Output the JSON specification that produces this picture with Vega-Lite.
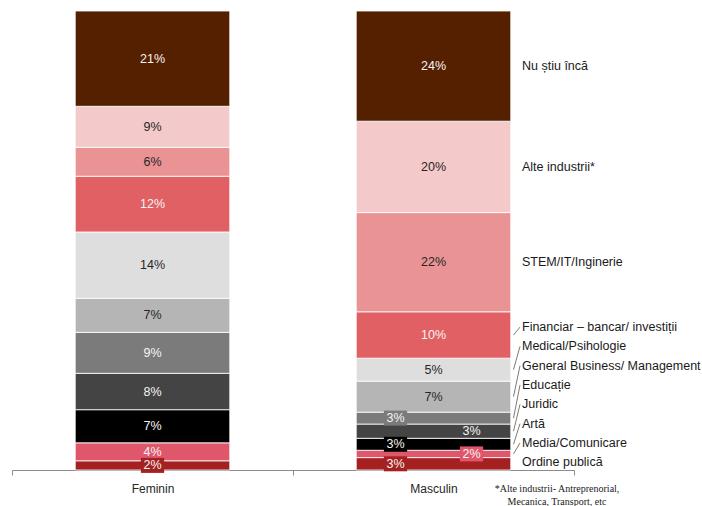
{
  "$schema": "https://vega.github.io/schema/vega-lite/v6.json",
  "width": 562,
  "height": 459,
  "autosize": {"type": "none"},
  "padding": {"left": 12, "top": 11, "right": 128, "bottom": 36},
  "config": {"view": {"stroke": null}, "font": "Liberation Sans"},
  "title": {
    "text": ["*Alte industrii- Antreprenorial,", "Mecanica, Transport, etc"],
    "orient": "bottom",
    "anchor": "end",
    "frame": "group",
    "align": "center",
    "dx": -17,
    "dy": -14,
    "font": "Liberation Serif",
    "fontSize": 10,
    "fontWeight": "normal",
    "color": "#1a1a1a",
    "lineHeight": 12.5
  },
  "data": {
    "values": [
      {"gender": "Feminin", "cat": "Ordine publică", "order": 1, "value": 0.020},
      {"gender": "Feminin", "cat": "Media/Comunicare", "order": 2, "value": 0.039},
      {"gender": "Feminin", "cat": "Artă", "order": 3, "value": 0.072},
      {"gender": "Feminin", "cat": "Juridic", "order": 4, "value": 0.079},
      {"gender": "Feminin", "cat": "Educație", "order": 5, "value": 0.089},
      {"gender": "Feminin", "cat": "General Business/ Management", "order": 6, "value": 0.074},
      {"gender": "Feminin", "cat": "Medical/Psihologie", "order": 7, "value": 0.144},
      {"gender": "Feminin", "cat": "Financiar – bancar/ investiții", "order": 8, "value": 0.121},
      {"gender": "Feminin", "cat": "STEM/IT/Inginerie", "order": 9, "value": 0.063},
      {"gender": "Feminin", "cat": "Alte industrii*", "order": 10, "value": 0.089},
      {"gender": "Feminin", "cat": "Nu știu încă", "order": 11, "value": 0.207},
      {"gender": "Masculin", "cat": "Ordine publică", "order": 1, "value": 0.027},
      {"gender": "Masculin", "cat": "Media/Comunicare", "order": 2, "value": 0.016},
      {"gender": "Masculin", "cat": "Artă", "order": 3, "value": 0.026},
      {"gender": "Masculin", "cat": "Juridic", "order": 4, "value": 0.031},
      {"gender": "Masculin", "cat": "Educație", "order": 5, "value": 0.026},
      {"gender": "Masculin", "cat": "General Business/ Management", "order": 6, "value": 0.0675},
      {"gender": "Masculin", "cat": "Medical/Psihologie", "order": 7, "value": 0.050},
      {"gender": "Masculin", "cat": "Financiar – bancar/ investiții", "order": 8, "value": 0.101},
      {"gender": "Masculin", "cat": "STEM/IT/Inginerie", "order": 9, "value": 0.216},
      {"gender": "Masculin", "cat": "Alte industrii*", "order": 10, "value": 0.199},
      {"gender": "Masculin", "cat": "Nu știu încă", "order": 11, "value": 0.240}
    ]
  },
  "transform": [
    {"stack": "value", "groupby": ["gender"], "sort": [{"field": "order", "order": "ascending"}], "as": ["y0", "y1"], "offset": "normalize"},
    {"calculate": "(datum.y0 + datum.y1) / 2", "as": "mid"}
  ],
  "encoding": {
    "x": {
      "field": "gender",
      "type": "nominal",
      "sort": ["Feminin", "Masculin"],
      "scale": {"paddingInner": 0, "paddingOuter": 0},
      "axis": {
        "title": null,
        "labelAngle": 0,
        "labelFontSize": 12,
        "labelColor": "#262626",
        "labelFont": "Liberation Sans",
        "labelPadding": 8,
        "domainColor": "#8c8c8c",
        "tickColor": "#8c8c8c",
        "tickSize": 5,
        "tickBand": "extent"
      }
    }
  },
  "layer": [
    {
      "mark": {"type": "bar", "width": {"band": 0.55}, "stroke": "white", "strokeWidth": 1, "strokeOpacity": 0.8},
      "encoding": {
        "y": {"field": "y0", "type": "quantitative", "scale": {"domain": [0, 1], "nice": false}, "axis": null},
        "y2": {"field": "y1"},
        "color": {
          "field": "cat",
          "type": "nominal",
          "legend": null,
          "scale": {
            "domain": ["Ordine publică", "Media/Comunicare", "Artă", "Juridic", "Educație", "General Business/ Management", "Medical/Psihologie", "Financiar – bancar/ investiții", "STEM/IT/Inginerie", "Alte industrii*", "Nu știu încă"],
            "range": ["#a52121", "#e0566b", "#000000", "#444444", "#7b7b7b", "#b5b5b5", "#dedede", "#e06063", "#e99395", "#f4c9ca", "#552000"]
          }
        }
      }
    },
    {
      "transform": [{"filter": "datum.gender === 'Masculin' && indexof(['Educație', 'Artă', 'Ordine publică'], datum.cat) >= 0"}],
      "mark": {"type": "point", "shape": "M-1.55,-1H1.55V1H-1.55Z", "size": 225, "filled": true, "opacity": 1, "xOffset": -38},
      "encoding": {
        "y": {"field": "mid", "type": "quantitative", "scale": {"domain": [0, 1], "nice": false}, "axis": null},
        "color": {"field": "cat", "type": "nominal", "legend": null}
      }
    },
    {
      "transform": [{"filter": "datum.gender === 'Masculin' && datum.cat === 'Media/Comunicare'"}],
      "mark": {"type": "point", "shape": "M-1.55,-1H1.55V1H-1.55Z", "size": 225, "filled": true, "opacity": 1, "xOffset": 38},
      "encoding": {
        "y": {"field": "mid", "type": "quantitative", "scale": {"domain": [0, 1], "nice": false}, "axis": null},
        "color": {"field": "cat", "type": "nominal", "legend": null}
      }
    },
    {
      "transform": [{"filter": "datum.gender === 'Feminin' && datum.value <= 0.03"}],
      "mark": {"type": "point", "shape": "M-1.55,-1H1.55V1H-1.55Z", "size": 225, "filled": true, "opacity": 1},
      "encoding": {
        "y": {"field": "mid", "type": "quantitative", "scale": {"domain": [0, 1], "nice": false}, "axis": null},
        "color": {"field": "cat", "type": "nominal", "legend": null}
      }
    },
    {
      "transform": [{"filter": "!(datum.gender === 'Masculin' && indexof(['Educație', 'Artă', 'Ordine publică', 'Juridic', 'Media/Comunicare'], datum.cat) >= 0)"}],
      "mark": {"type": "text", "fontSize": 12.5, "baseline": "middle"},
      "encoding": {
        "y": {"field": "mid", "type": "quantitative", "scale": {"domain": [0, 1], "nice": false}, "axis": null},
        "text": {"field": "value", "type": "quantitative", "format": ".0%"},
        "color": {"condition": {"test": "indexof(['Alte industrii*', 'STEM/IT/Inginerie', 'Medical/Psihologie', 'General Business/ Management'], datum.cat) >= 0", "value": "#262626"}, "value": "#f5f5f5"}
      }
    },
    {
      "transform": [{"filter": "datum.gender === 'Masculin' && indexof(['Educație', 'Artă', 'Ordine publică'], datum.cat) >= 0"}],
      "mark": {"type": "text", "fontSize": 12.5, "baseline": "middle", "dx": -38},
      "encoding": {
        "y": {"field": "mid", "type": "quantitative", "scale": {"domain": [0, 1], "nice": false}, "axis": null},
        "text": {"field": "value", "type": "quantitative", "format": ".0%"},
        "color": {"value": "#f5f5f5"}
      }
    },
    {
      "transform": [{"filter": "datum.gender === 'Masculin' && indexof(['Juridic', 'Media/Comunicare'], datum.cat) >= 0"}],
      "mark": {"type": "text", "fontSize": 12.5, "baseline": "middle", "dx": 38},
      "encoding": {
        "y": {"field": "mid", "type": "quantitative", "scale": {"domain": [0, 1], "nice": false}, "axis": null},
        "text": {"field": "value", "type": "quantitative", "format": ".0%"},
        "color": {"value": "#f5f5f5"}
      }
    },
    {
      "transform": [
        {"filter": "datum.gender === 'Masculin'"},
        {"window": [{"op": "row_number", "as": "rank"}], "sort": [{"field": "order", "order": "ascending"}]},
        {"calculate": "max(datum.mid, 0.0167 + (datum.rank - 1) * 0.0421)", "as": "ylab"},
        {"filter": "datum.ylab - datum.mid > 0.01"}
      ],
      "mark": {"type": "rule", "color": "#595959", "strokeWidth": 0.8, "xOffset": 80, "x2Offset": 86.5},
      "encoding": {
        "x2": {"field": "gender"},
        "y": {"field": "mid", "type": "quantitative", "scale": {"domain": [0, 1], "nice": false}, "axis": null},
        "y2": {"field": "ylab"}
      }
    },
    {
      "transform": [
        {"filter": "datum.gender === 'Masculin'"},
        {"window": [{"op": "row_number", "as": "rank"}], "sort": [{"field": "order", "order": "ascending"}]},
        {"calculate": "max(datum.mid, 0.0167 + (datum.rank - 1) * 0.0421)", "as": "ylab"}
      ],
      "mark": {"type": "text", "fontSize": 12.5, "baseline": "middle", "align": "left", "dx": 88.5, "color": "#1a1a1a"},
      "encoding": {
        "y": {"field": "ylab", "type": "quantitative", "scale": {"domain": [0, 1], "nice": false}, "axis": null},
        "text": {"field": "cat", "type": "nominal"}
      }
    }
  ]
}
